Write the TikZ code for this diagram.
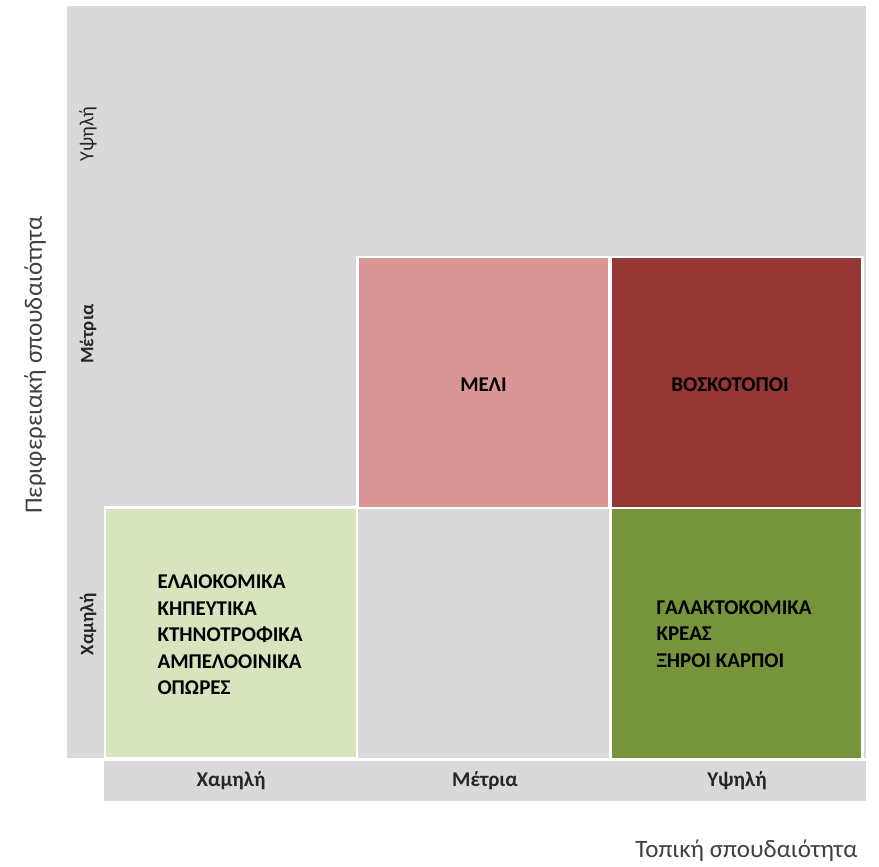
\documentclass[tikz,border=0pt]{standalone}
\usepackage{fontspec}
\setmainfont{Carlito}
\usepackage{xcolor}
\usepackage{tikz}
\usetikzlibrary{positioning}

\definecolor{panelgray}{HTML}{D9D9D9}
\definecolor{lowgreen}{HTML}{D7E4BD}
\definecolor{highgreen}{HTML}{77933C}
\definecolor{midred}{HTML}{D99694}
\definecolor{highred}{HTML}{953735}
\definecolor{titlegray}{HTML}{404040}

\begin{document}
\begin{tikzpicture}[
    x=1pt, y=-1pt,
    cell/.style={draw=white, line width=2.5pt, rectangle, minimum width=252pt, minimum height=251pt, inner sep=0pt},
    celltext/.style={font=\fontsize{21}{26.5}\selectfont\bfseries, align=left, anchor=west, text=black},
    levellabel/.style={font=\fontsize{21}{24}\selectfont\bfseries, text=black!85},
    axistitle/.style={font=\fontsize{25}{28}\selectfont, text=titlegray}
]
\useasboundingbox (0,0) rectangle (879,867);

% grey panels
\fill[panelgray] (67,6) rectangle (866,758);
\fill[panelgray] (104,761) rectangle (866,801);

% matrix cells
\node[cell, fill=lowgreen] (lowlow) at (231,633) {};
\node[cell, fill=midred] (midmid) at (483.5,382.5) {};
\node[cell, fill=highred] (midhigh) at (736.5,382.5) {};
\node[cell, fill=highgreen] (lowhigh) at (736.5,633.5) {};

% cell contents
\node[celltext] (lowlowtext) at (154,635) {ΕΛΑΙΟΚΟΜΙΚΑ\\ΚΗΠΕΥΤΙΚΑ\\ΚΤΗΝΟΤΡΟΦΙΚΑ\\ΑΜΠΕΛΟΟΙΝΙΚΑ\\ΟΠΩΡΕΣ};
\node[celltext, anchor=center] (midmidtext) at (483.5,385) {ΜΕΛΙ};
\node[celltext, anchor=center] (midhightext) at (730,385) {ΒΟΣΚΟΤΟΠΟΙ};
\node[celltext] (lowhightext) at (653,634) {ΓΑΛΑΚΤΟΚΟΜΙΚΑ\\ΚΡΕΑΣ\\ΞΗΡΟΙ ΚΑΡΠΟΙ};

% level labels, vertical axis
\node[levellabel, font=\fontsize{20}{24}\selectfont, rotate=90] (yhigh) at (88,134) {Υψηλή};
\node[levellabel, font=\fontsize{19}{24}\selectfont\bfseries, rotate=90] (ymid) at (88,334) {Μέτρια};
\node[levellabel, font=\fontsize{19}{24}\selectfont\bfseries, rotate=90] (ylow) at (88,624) {Χαμηλή};

% level labels, horizontal axis
\node[levellabel] (xlow) at (231,781) {Χαμηλή};
\node[levellabel] (xmid) at (485,781) {Μέτρια};
\node[levellabel] (xhigh) at (737,781) {Υψηλή};

% axis titles
\node[axistitle, rotate=90] (ytitle) at (35,365) {Περιφερειακή σπουδαιότητα};
\node[axistitle, anchor=east] (xtitle) at (861,851) {Τοπική σπουδαιότητα};

\end{tikzpicture}
\end{document}
